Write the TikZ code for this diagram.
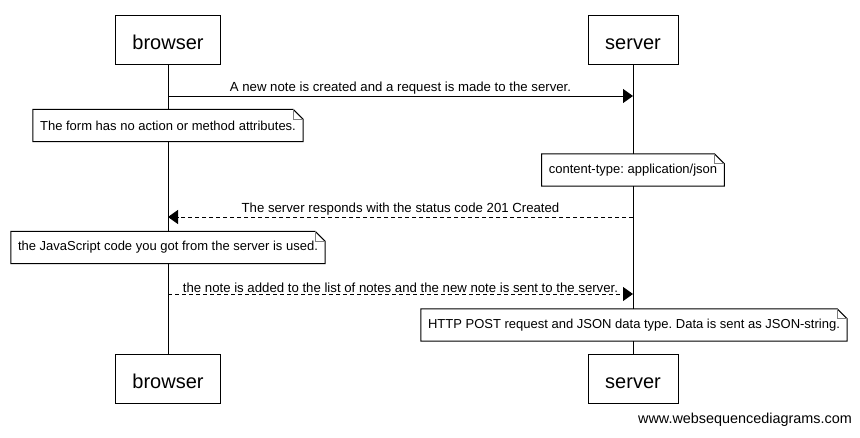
\documentclass[tikz,border=0pt]{standalone}
\usepackage{fontspec}
\setmainfont{Liberation Sans}
\usetikzlibrary{arrows.meta, positioning}
\frenchspacing

\tikzset{
  actor/.style={draw, line width=1pt, minimum height=49pt, inner sep=0pt,
                text height=19pt, text depth=0pt, font=\fontsize{20}{24}\selectfont},
  notebox/.style={fill=white, inner xsep=7pt, inner ysep=0pt, minimum height=32pt,
                  font=\fontsize{13}{15}\selectfont},
  msg/.style={line width=1pt, -{Triangle[length=10pt, width=14pt]}},
  reply/.style={msg, dash pattern=on 4pt off 3pt},
  msglabel/.style={font=\fontsize{13.2}{15}\selectfont, inner sep=1pt, above}
}

% Notiz mit umgeknickter Ecke
\newcommand{\notefold}[1]{%
  \draw[line width=1pt] (#1.south west) -- (#1.north west) -- ([xshift=-10pt]#1.north east)
    -- ([yshift=-10pt]#1.north east) -- (#1.south east) -- cycle;
  \draw[gray, line width=0.8pt] ([xshift=-10pt]#1.north east) |- ([yshift=-10pt]#1.north east);
}

\begin{document}
\begin{tikzpicture}[x=1pt, y=-1pt, >=Stealth]
  \useasboundingbox (0,0) rectangle (860,437);

  % Teilnehmer oben und unten
  \node[actor, minimum width=105pt] (btop) at (168,39.5) {browser};
  \node[actor, minimum width=90pt]  (stop) at (633,39.5) {server};
  \node[actor, minimum width=105pt] (bbot) at (168,378.5) {browser};
  \node[actor, minimum width=90pt]  (sbot) at (633,378.5) {server};

  % Lebenslinien
  \draw[line width=1pt] (btop) -- (bbot);
  \draw[line width=1pt] (stop) -- (sbot);

  % Nachrichten
  \coordinate (b1) at (168,96);  \coordinate (s1) at (633,96);
  \coordinate (b2) at (168,217); \coordinate (s2) at (633,217);
  \coordinate (b3) at (168,294); \coordinate (s3) at (633,294);

  \draw[msg] (b1) -- node[msglabel] {A new note is created and a request is made to the server.} (s1);
  \draw[reply] (s2) -- node[msglabel] {The server responds with the status code 201 Created} (b2);
  \draw[reply] (b3) -- node[msglabel] {the note is added to the list of notes and the new note is sent to the server.} (s3);

  % Notizen
  \node[notebox] (n1) at (168,125.5) {The form has no action or method attributes.};
  \notefold{n1}
  \node[notebox] (n2) at (633,170) {content-type: application/json};
  \notefold{n2}
  \node[notebox] (n3) at (168,247.5) {the JavaScript code you got from the server is used.};
  \notefold{n3}
  \node[notebox] (n4) at (634,325) {HTTP POST request and JSON data type. Data is sent as JSON-string.};
  \notefold{n4}

  % Wasserzeichen
  \node[anchor=east, inner sep=0pt, font=\fontsize{14.4}{17}\selectfont] (wsd) at (852,420) {www.websequencediagrams.com};
\end{tikzpicture}
\end{document}
